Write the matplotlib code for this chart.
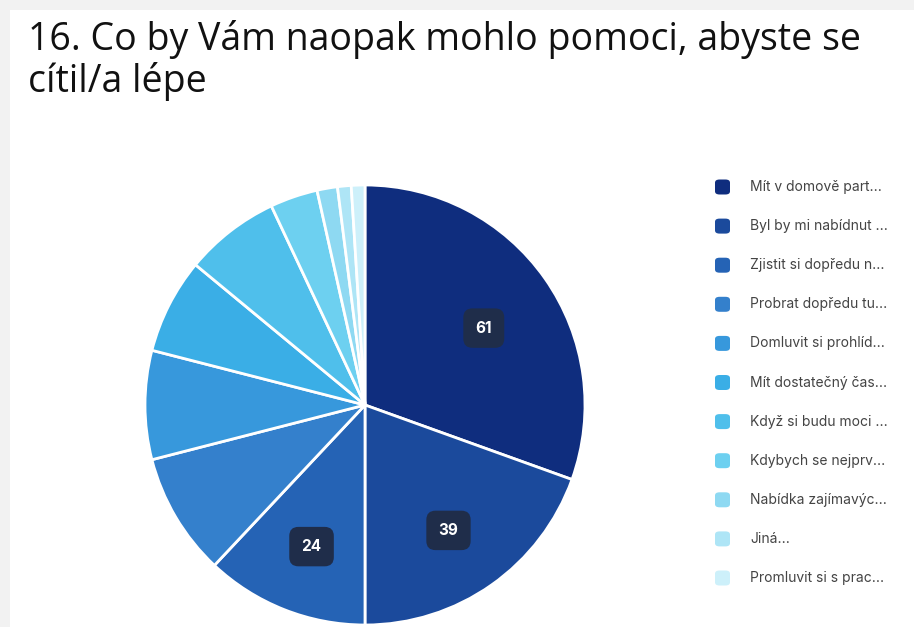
import matplotlib.pyplot as plt
from matplotlib.patches import FancyBboxPatch, Rectangle
import numpy as np

labels = ["Mít v domově part...", "Byl by mi nabídnut ...", "Zjistit si dopředu n...",
          "Probrat dopředu tu...", "Domluvit si prohlíd...", "Mít dostatečný čas...",
          "Když si budu moci ...", "Kdybych se nejprv...", "Nabídka zajímavýc...",
          "Jiná...", "Promluvit si s prac..."]
values = [61, 39, 24, 18, 16, 14, 14, 7, 3, 2, 2]
colors = ["#0f2d7e", "#1b4a9c", "#2563b5", "#3480cc", "#3798dc", "#3aaee6",
          "#4fbfeb", "#6dd0f0", "#8ed9f2", "#aee5f6", "#cdf0fa"]
shown = [61, 39, 24]

W, H = 914, 627
fig = plt.figure(figsize=(W / 100, H / 100), dpi=100)
fig.patch.set_facecolor("#f2f2f2")
# white card
fig.patches.append(Rectangle((10 / W, 0), 1, 1 - 10 / H, transform=fig.transFigure,
                             facecolor="white", edgecolor="none", zorder=-5))

fig.text(28 / W, 1 - 50 / H, "16. Co by Vám naopak mohlo pomoci, abyste se",
         fontsize=27, family="Open Sans", color="#111111", va="baseline")
fig.text(28 / W, 1 - 92 / H, "cítil/a lépe",
         fontsize=27, family="Open Sans", color="#111111", va="baseline")

cx, cy, r = 365, 405, 220
ax = fig.add_axes([(cx - r) / W, (H - cy - r) / H, 2 * r / W, 2 * r / H])
ax.set_zorder(1)
wedges, _ = ax.pie(values, colors=colors, startangle=90, counterclock=False,
                   wedgeprops=dict(edgecolor="white", linewidth=2))
ax.set_xlim(-1, 1)
ax.set_ylim(-1, 1)
ax.set_aspect("equal")
ax.axis("off")

for w, v in zip(wedges, values):
    if v not in shown:
        continue
    mid = np.deg2rad((w.theta1 + w.theta2) / 2)
    d = 0.66
    ax.text(d * np.cos(mid), d * np.sin(mid) - 0.03, str(v), ha="center", va="center",
            fontsize=11, fontweight="bold", color="white", family="Inter",
            bbox=dict(boxstyle="round,pad=0.8,rounding_size=0.6",
                      facecolor="#1f2d4a", edgecolor="none"))

# legend
y0, dy = 187, 39.1
for i, (lab, col) in enumerate(zip(labels, colors)):
    y = y0 + i * dy
    fig.patches.append(FancyBboxPatch(((715) / W, 1 - (y + 7.5) / H), 15 / W, 15 / H,
                                      boxstyle="round,pad=0,rounding_size=0.005",
                                      transform=fig.transFigure, facecolor=col,
                                      edgecolor="none", zorder=2))
    fig.text(750 / W, 1 - y / H, lab, fontsize=10, family="Inter", color="#444444",
             va="center", ha="left")

fig.savefig("out.png", dpi=100, facecolor=fig.get_facecolor())
